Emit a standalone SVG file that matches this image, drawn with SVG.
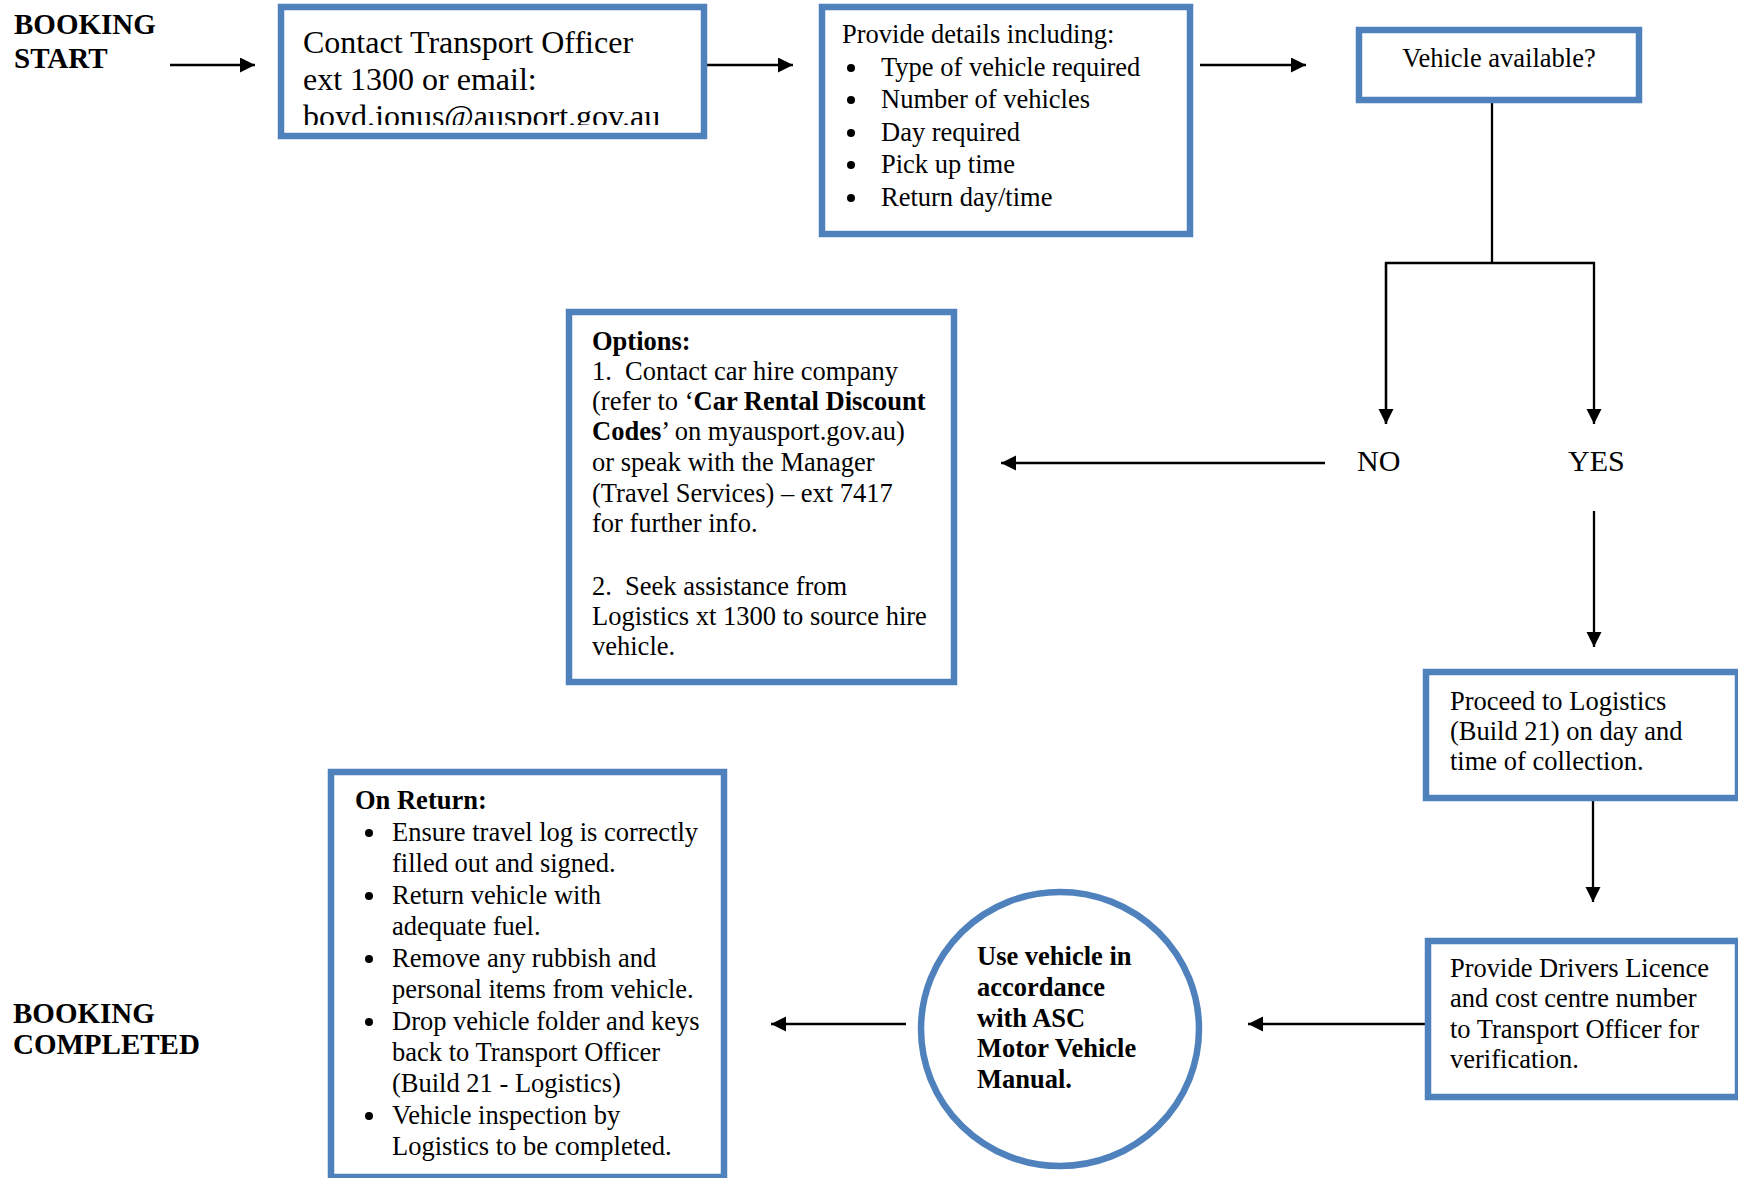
<svg xmlns="http://www.w3.org/2000/svg" width="1738" height="1178" viewBox="0 0 1738 1178">
<style>
  text { font-family: "Liberation Serif", "Times New Roman", serif; fill: #000; }
  .t { font-size: 26.5px; }
  .b { font-weight: bold; }
  .lbl { font-size: 29px; font-weight: bold; }
  .box { fill: #fff; stroke: #4F81BD; stroke-width: 6.5; }
  .con { fill: none; stroke: #000; stroke-width: 2.3; }
  .bul { fill: #000; }
</style>
<defs>
  <marker id="ah" markerUnits="userSpaceOnUse" markerWidth="16" markerHeight="16" refX="15" refY="7.5" orient="auto">
    <path d="M0,0 L15,7.5 L0,15 z" fill="#000"/>
  </marker>
  <clipPath id="clipContact"><rect x="284" y="10" width="417" height="115"/></clipPath>
</defs>
<rect width="1738" height="1178" fill="#fff"/>

<g id="connectors">
  <line class="con" x1="170" y1="65" x2="255" y2="65" marker-end="url(#ah)"/>
  <line class="con" x1="707" y1="65" x2="793" y2="65" marker-end="url(#ah)"/>
  <line class="con" x1="1200" y1="65" x2="1306" y2="65" marker-end="url(#ah)"/>
  <polyline class="con" points="1492,103 1492,263"/>
  <polyline class="con" points="1386,424 1386,263 1594,263 1594,424" marker-end="url(#ah)"/>
  <line class="con" x1="1386" y1="263" x2="1386" y2="424" marker-end="url(#ah)"/>
  <line class="con" x1="1325" y1="463" x2="1001" y2="463" marker-end="url(#ah)"/>
  <line class="con" x1="1594" y1="511" x2="1594" y2="647" marker-end="url(#ah)"/>
  <line class="con" x1="1593" y1="801" x2="1593" y2="902" marker-end="url(#ah)"/>
  <line class="con" x1="1426" y1="1024" x2="1248" y2="1024" marker-end="url(#ah)"/>
  <line class="con" x1="906" y1="1024" x2="771" y2="1024" marker-end="url(#ah)"/>
</g>

<g id="booking-start">
  <text class="lbl" x="14" y="34">BOOKING</text>
  <text class="lbl" x="14" y="68">START</text>
</g>

<g id="contact">
  <rect class="box" x="281" y="7" width="423" height="129"/>
  <g clip-path="url(#clipContact)" style="font-size:32px">
    <text x="303" y="53">Contact Transport Officer</text>
    <text x="303" y="90">ext 1300 or email:</text>
    <text x="303" y="127">boyd.jonus@ausport.gov.au</text>
  </g>
</g>

<g id="details">
  <rect class="box" x="822" y="7" width="368" height="227"/>
  <text class="t" x="842" y="43">Provide details including:</text>
  <circle class="bul" cx="851" cy="68" r="4"/>
  <circle class="bul" cx="851" cy="100" r="4"/>
  <circle class="bul" cx="851" cy="133" r="4"/>
  <circle class="bul" cx="851" cy="165" r="4"/>
  <circle class="bul" cx="851" cy="198" r="4"/>
  <g class="t">
    <text x="881" y="76">Type of vehicle required</text>
    <text x="881" y="108">Number of vehicles</text>
    <text x="881" y="141">Day required</text>
    <text x="881" y="173">Pick up time</text>
    <text x="881" y="206">Return day/time</text>
  </g>
</g>

<g id="available">
  <rect class="box" x="1359" y="30" width="280" height="70"/>
  <text class="t" x="1499" y="67" text-anchor="middle">Vehicle available?</text>
</g>

<g id="no">
  <text x="1357" y="471" style="font-size:30px">NO</text>
</g>
<g id="yes">
  <text x="1568" y="471" style="font-size:30px">YES</text>
</g>

<g id="options">
  <rect class="box" x="569" y="312" width="385" height="370"/>
  <g class="t">
    <text class="b" x="592" y="350">Options:</text>
    <text x="592" y="380">1.</text><text x="625" y="380">Contact car hire company</text>
    <text x="592" y="410">(refer to ‘<tspan class="b">Car Rental Discount</tspan></text>
    <text x="592" y="440"><tspan class="b">Codes</tspan>’ on myausport.gov.au)</text>
    <text x="592" y="471">or speak with the Manager</text>
    <text x="592" y="502">(Travel Services) – ext 7417</text>
    <text x="592" y="532">for further info.</text>
    <text x="592" y="595">2.</text><text x="625" y="595">Seek assistance from</text>
    <text x="592" y="625">Logistics xt 1300 to source hire</text>
    <text x="592" y="655">vehicle.</text>
  </g>
</g>

<g id="proceed">
  <rect class="box" x="1426" y="672" width="312" height="126"/>
  <g class="t">
    <text x="1450" y="710">Proceed to Logistics</text>
    <text x="1450" y="740">(Build 21) on day and</text>
    <text x="1450" y="770">time of collection.</text>
  </g>
</g>

<g id="licence">
  <rect class="box" x="1428" y="941" width="310" height="156"/>
  <g class="t">
    <text x="1450" y="977">Provide Drivers Licence</text>
    <text x="1450" y="1007">and cost centre number</text>
    <text x="1450" y="1038">to Transport Officer for</text>
    <text x="1450" y="1068">verification.</text>
  </g>
</g>

<g id="use-vehicle">
  <ellipse class="box" cx="1060" cy="1029" rx="139" ry="137"/>
  <g class="t b">
    <text x="977" y="965">Use vehicle in</text>
    <text x="977" y="996">accordance</text>
    <text x="977" y="1027">with ASC</text>
    <text x="977" y="1057">Motor Vehicle</text>
    <text x="977" y="1088">Manual.</text>
  </g>
</g>

<g id="on-return">
  <rect class="box" x="331" y="772" width="393" height="405"/>
  <circle class="bul" cx="369" cy="833" r="4"/>
  <circle class="bul" cx="369" cy="896" r="4"/>
  <circle class="bul" cx="369" cy="959" r="4"/>
  <circle class="bul" cx="369" cy="1022" r="4"/>
  <circle class="bul" cx="369" cy="1116" r="4"/>
  <g class="t">
    <text class="b" x="355" y="809">On Return:</text>
    <text x="392" y="841">Ensure travel log is correctly</text>
    <text x="392" y="872">filled out and signed.</text>
    <text x="392" y="904">Return vehicle with</text>
    <text x="392" y="935">adequate fuel.</text>
    <text x="392" y="967">Remove any rubbish and</text>
    <text x="392" y="998">personal items from vehicle.</text>
    <text x="392" y="1030">Drop vehicle folder and keys</text>
    <text x="392" y="1061">back to Transport Officer</text>
    <text x="392" y="1092">(Build 21 - Logistics)</text>
    <text x="392" y="1124">Vehicle inspection by</text>
    <text x="392" y="1155">Logistics to be completed.</text>
  </g>
</g>

<g id="booking-completed">
  <text class="lbl" x="13" y="1023">BOOKING</text>
  <text class="lbl" x="13" y="1054">COMPLETED</text>
</g>
</svg>
